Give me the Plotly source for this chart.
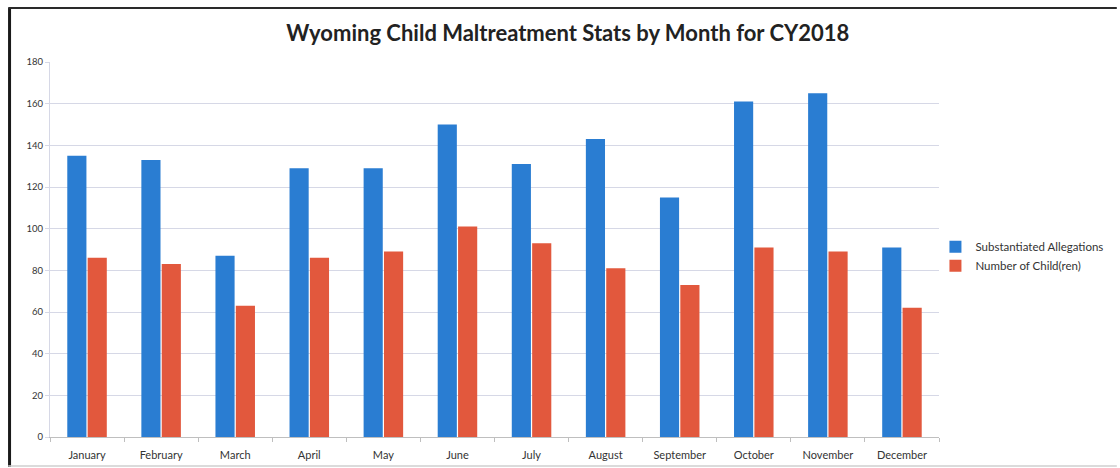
import plotly.graph_objects as go

months = ["January", "February", "March", "April", "May", "June",
          "July", "August", "September", "October", "November", "December"]
substantiated = [135, 133, 87, 129, 129, 150, 131, 143, 115, 161, 165, 91]
children = [86, 83, 63, 86, 89, 101, 93, 81, 73, 91, 89, 62]
y_ticks = [0, 20, 40, 60, 80, 100, 120, 140, 160, 180]

title_text = "Wyoming Child Maltreatment Stats by Month for CY2018"
name_a = "Substantiated Allegations"
name_b = "Number of Child(ren)"

BLUE = "#2A7DD2"
RED = "#E2583D"

fig = go.Figure()
fig.add_trace(go.Bar(x=months, y=substantiated, name=name_a,
                     marker=dict(color=BLUE, line=dict(width=0))))
fig.add_trace(go.Bar(x=months, y=children, name=name_b,
                     marker=dict(color=RED, line=dict(width=0))))

fig.update_layout(
    width=1120, height=468,
    margin=dict(l=49.5, r=170.5, t=62, b=31),
    paper_bgcolor="white", plot_bgcolor="white",
    barmode="group", bargap=0.45, bargroupgap=0.06,
    font=dict(family="Lato, 'Open Sans', sans-serif", color="#333333"),
    title=dict(text="<b>" + title_text + "</b>", x=0.507, xanchor="center",
               y=0.928, yanchor="middle",
               font=dict(size=22, color="#222222", family="Lato, 'Open Sans', sans-serif")),
    legend=dict(x=0.996, y=0.482, xanchor="left", yanchor="middle",
                font=dict(size=11.5, color="#333333"), itemwidth=30,
                bgcolor="rgba(0,0,0,0)"),
    showlegend=True,
)

fig.update_xaxes(
    automargin=False,
    showgrid=False, showline=True, linecolor="#BFBFBF", linewidth=1,
    ticks="outside", ticklen=4, tickcolor="#BFBFBF", tickson="boundaries",
    ticklabelstandoff=8,
    tickfont=dict(size=11, color="#333333"),
)
fig.update_yaxes(
    automargin=False,
    range=[0, 180], tickvals=y_ticks,
    showgrid=True, gridcolor="#D6D8E6", gridwidth=1,
    showline=True, linecolor="#D6D8E6", linewidth=1,
    ticks="outside", ticklen=4, tickcolor="#D6D8E6",
    tickfont=dict(size=9.5, color="#333333"), zeroline=False,
)

# Outer frame around the chart
fig.add_shape(type="line", xref="paper", yref="paper",
              x0=-0.0455, x1=-0.0455, y0=1.144, y1=-0.08,
              line=dict(color="#1A1A1A", width=3))
fig.add_shape(type="line", xref="paper", yref="paper",
              x0=-0.047, x1=1.2, y0=1.144, y1=1.144,
              line=dict(color="#2A2A2A", width=2))
fig.add_shape(type="line", xref="paper", yref="paper",
              x0=-0.047, x1=1.2, y0=-0.077, y1=-0.077,
              line=dict(color="#CFCFCF", width=1.5))

fig.write_html("out.html")
